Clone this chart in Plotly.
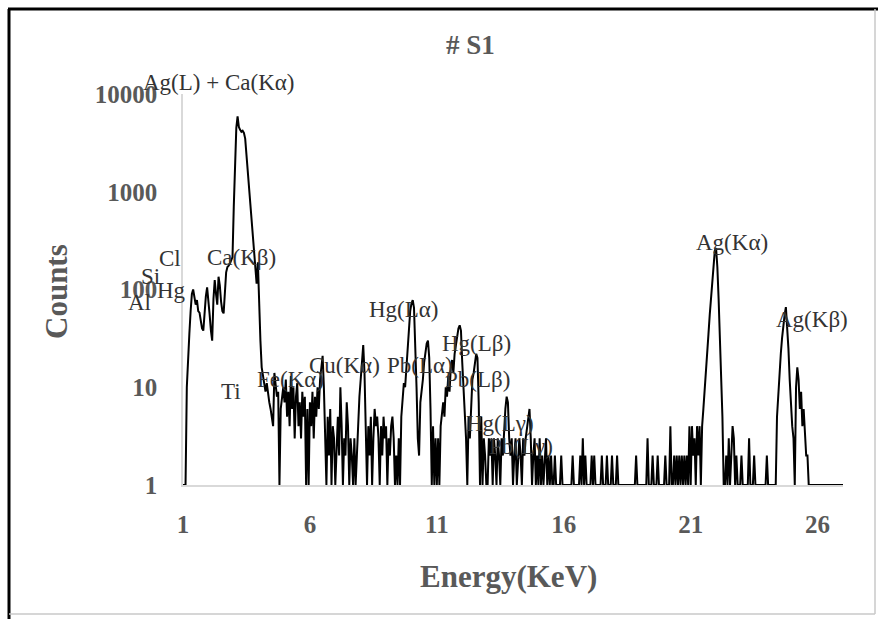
import numpy as np
import plotly.graph_objects as go

# ---- data: counts per 0.05 keV channel, one list per keV band ----
c01 = [1, 1, 1, 10, 22, 35, 60, 90, 100, 85, 70, 78, 60, 58, 48, 40, 38, 60, 85, 105]
c02 = [80, 55, 38, 30, 80, 125, 90, 70, 135, 110, 75, 60, 57, 100, 150, 170, 175, 185, 200, 215]
c03 = [700, 2000, 4500, 5900, 4600, 4300, 4100, 4200, 4000, 3500, 2400, 1600, 1100, 740, 500, 340, 230, 170, 115, 190]
c04 = [60, 30, 16, 13, 10, 9, 11, 8, 7, 6, 5, 4, 14, 10, 8, 9, 1, 6, 8, 10]
c05 = [7, 12, 5, 9, 4, 13, 6, 10, 3, 8, 11, 4, 7, 3, 9, 5, 8, 1, 6, 1]
c06 = [7, 4, 9, 3, 8, 5, 10, 6, 12, 17, 21, 10, 4, 1, 5, 2, 6, 1, 4, 3]
c07 = [1, 3, 5, 2, 10, 4, 1, 3, 2, 7, 4, 1, 3, 2, 1, 3, 1, 2, 5, 8]
c08 = [12, 20, 27, 14, 5, 1, 4, 2, 5, 1, 3, 6, 4, 5, 3, 1, 4, 2, 5, 3]
c09 = [4, 1, 3, 2, 4, 5, 3, 1, 2, 1, 3, 1, 5, 8, 11, 10, 16, 25, 40, 60]
c10 = [72, 78, 65, 30, 10, 3, 2, 7, 9, 12, 18, 24, 28, 30, 20, 6, 1, 4, 1, 3]
c11 = [1, 3, 1, 4, 5, 7, 5, 10, 8, 13, 9, 16, 19, 14, 22, 28, 35, 40, 43, 38]
c12 = [18, 10, 6, 3, 1, 5, 3, 8, 12, 14, 18, 22, 20, 7, 1, 5, 1, 3, 2, 1]
c13 = [1, 3, 2, 3, 1, 3, 2, 1, 3, 2, 1, 3, 2, 4, 6, 8, 7, 3, 2, 3]
c14 = [1, 2, 3, 1, 2, 3, 2, 1, 3, 2, 3, 4, 5, 6, 3, 1, 2, 3, 1, 2]
c15 = [1, 3, 1, 2, 1, 2, 3, 1, 2, 1, 2, 1, 1, 2, 1, 1, 1, 1, 2, 1]
c16 = [1, 1, 1, 1, 1, 1, 1, 2, 1, 1, 1, 1, 1, 2, 1, 3, 1, 2, 1, 1]
c17 = [1, 1, 2, 1, 2, 1, 1, 1, 1, 1, 2, 1, 1, 1, 2, 1, 1, 1, 2, 1]
c18 = [1, 1, 2, 1, 1, 1, 1, 1, 1, 1, 1, 1, 1, 1, 1, 1, 1, 2, 1, 1]
c19 = [1, 1, 1, 1, 1, 1, 3, 1, 1, 1, 2, 1, 1, 1, 2, 1, 1, 1, 1, 1]
c20 = [2, 1, 1, 1, 4, 1, 1, 2, 1, 2, 1, 2, 1, 2, 1, 2, 1, 2, 1, 4]
c21 = [1, 4, 2, 3, 1, 4, 2, 4, 1, 4, 6, 10, 15, 22, 35, 55, 85, 130, 190, 250]
c22 = [265, 170, 80, 35, 12, 5, 1, 1, 2, 1, 3, 1, 2, 4, 3, 1, 2, 1, 1, 1]
c23 = [2, 1, 1, 1, 1, 1, 3, 1, 1, 1, 2, 1, 1, 1, 1, 1, 1, 1, 1, 1]
c24 = [2, 1, 1, 1, 1, 1, 1, 1, 5, 9, 15, 22, 32, 45, 55, 66, 45, 25, 12, 6]
c25 = [4, 3, 1, 10, 16, 12, 6, 9, 4, 6, 3, 2, 2, 1, 1, 1, 1, 1, 1, 1]
c26 = [1, 1, 1, 1, 1, 1, 1, 1, 1, 1, 1, 1, 1, 1, 1, 1, 1, 1, 1, 1]
c27 = [1]

counts = (c01 + c02 + c03 + c04 + c05 + c06 + c07 + c08 + c09 + c10 + c11 + c12 + c13
          + c14 + c15 + c16 + c17 + c18 + c19 + c20 + c21 + c22 + c23 + c24 + c25 + c26 + c27)
energy = np.round(1.0 + 0.05 * np.arange(len(counts)), 2)

x_ticks = [1, 6, 11, 16, 21, 26]
y_ticks = [1, 10, 100, 1000, 10000]
y_ticktext = ["1", "10", "100", "1000", "10000"]

# peak labels: text, energy (keV), counts position
label_text = ["Ag(L) + Ca(Kα)", "Cl", "Si", "Hg", "Al", "Ca(Kβ)", "Ti", "Fe(Kα)", "Cu(Kα)",
              "Pb(Lα)", "Hg(Lα)", "Hg(Lβ)", "Pb(Lβ)", "Hg(Lγ)", "Pb(Lγ)", "Ag(Kα)", "Ag(Kβ)"]
label_x = [2.38, 0.49, -0.30, 0.53, -0.73, 3.32, 2.89, 5.25, 7.38,
           10.34, 9.71, 12.58, 12.62, 13.49, 14.31, 22.63, 25.78]
label_y = [13200, 209, 135, 98, 74, 214, 9.1, 12, 16.6,
           16.6, 62, 28, 12, 4.3, 2.5, 302, 49]

# ---- figure ----
W, H = 878, 619
L, R, T, B = 183, 35, 94, 134
PW, PH = W - L - R, H - T - B
X0, X1 = 1, 27
Y0, Y1 = 0, 4

def px(x):
    return (x - L) / PW

def py(y):
    return (H - B - y) / PH

SERIF = "Liberation Serif"
GRAY = "#595959"

fig = go.Figure()
fig.add_trace(go.Scatter(x=energy, y=counts, mode="lines",
                         line=dict(color="black", width=2), showlegend=False,
                         hoverinfo="x+y"))

axis_font = dict(family=SERIF, size=25, color=GRAY, weight="bold")
fig.update_layout(
    width=W, height=H,
    margin=dict(l=L, r=R, t=T, b=B),
    paper_bgcolor="white", plot_bgcolor="white",
    showlegend=False,
    xaxis=dict(range=[X0, X1], tickvals=x_ticks, showgrid=False, zeroline=False,
               showline=True, linecolor="#d9d9d9", linewidth=1.5, ticks="",
               tickfont=axis_font, ticklabelstandoff=16),
    yaxis=dict(type="log", range=[Y0, Y1], tickvals=y_ticks, ticktext=y_ticktext,
               showgrid=False, zeroline=False, showline=True, linecolor="#d9d9d9",
               linewidth=1.5, ticks="", tickfont=axis_font, ticklabelstandoff=19),
)

annotations = []
for t, x, y in zip(label_text, label_x, label_y):
    annotations.append(dict(x=(x - X0) / (X1 - X0), y=(np.log10(y) - Y0) / (Y1 - Y0),
                            xref="paper", yref="paper", text=t,
                            showarrow=False, xanchor="center", yanchor="middle",
                            font=dict(family=SERIF, size=23, color="#333333")))
annotations.append(dict(x=px(470), y=py(45), xref="paper", yref="paper", text="# S1",
                        showarrow=False, xanchor="center", yanchor="middle",
                        font=dict(family=SERIF, size=27, color=GRAY, weight="bold")))
annotations.append(dict(x=px(56), y=py(292), xref="paper", yref="paper", text="Counts",
                        textangle=-90, showarrow=False, xanchor="center", yanchor="middle",
                        font=dict(family=SERIF, size=31, color=GRAY, weight="bold")))
annotations.append(dict(x=px(508), y=py(576), xref="paper", yref="paper", text="Energy(KeV)",
                        showarrow=False, xanchor="center", yanchor="middle",
                        font=dict(family=SERIF, size=31, color=GRAY, weight="bold")))
fig.update_layout(annotations=annotations)

# outer frame (black top/left, light gray bottom/right)
frame = [
    ((8, 9), (878, 9), "black", 3),
    ((9, 9), (9, 619), "black", 3),
    ((875, 9), (875, 614), "#c8c8c8", 1.5),
    ((9, 614), (875, 614), "#c8c8c8", 1.5),
]
for (x0, y0), (x1, y1), col, w in frame:
    fig.add_shape(type="line", xref="paper", yref="paper",
                  x0=px(x0), y0=py(y0), x1=px(x1), y1=py(y1),
                  line=dict(color=col, width=w))

fig.write_html("out.html", config={"displayModeBar": False},
               post_script="document.body.style.margin='0px';"
                           "document.documentElement.style.overflow='hidden';")
